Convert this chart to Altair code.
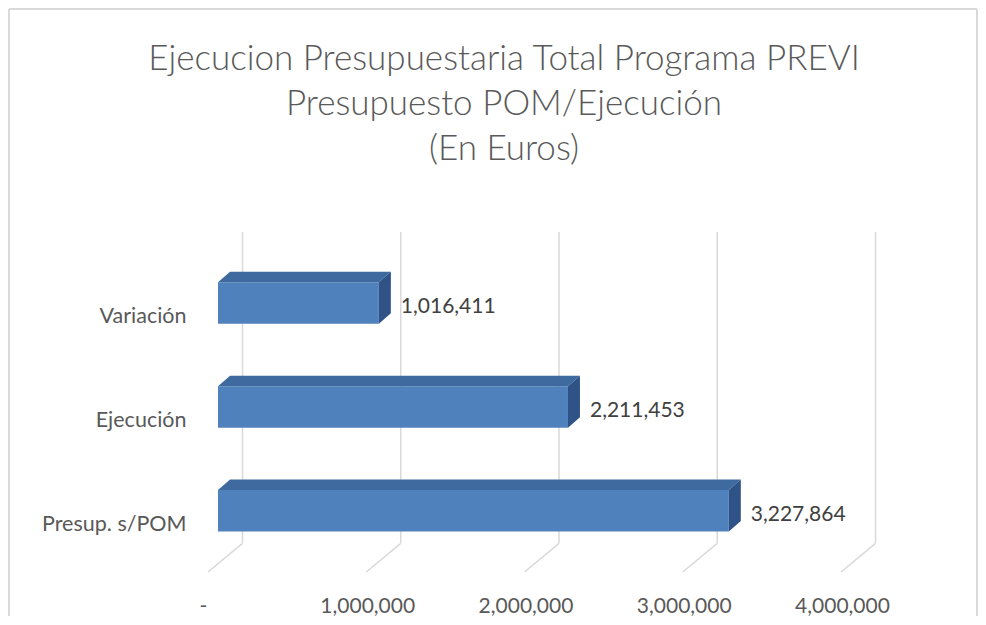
import altair as alt
import pandas as pd

# ---------------- data ----------------
categories = ["Presup. s/POM", "Ejecución", "Variación"]
cat_index = [0, 1, 2]
values = [3227864, 2211453, 1016411]
tick_values = [0, 1000000, 2000000, 3000000, 4000000]
title_lines = [
    "Ejecucion Presupuestaria Total Programa PREVI",
    "Presupuesto POM/Ejecución",
    "(En Euros)",
]

# ---------------- layout / style ----------------
W, H = 633, 340
X_MAX = 4000000
Y_MIN, Y_MAX = -0.589, 2.683
PX_X = W / X_MAX
PX_Y = H / (Y_MAX - Y_MIN)
BAR_HALF = 20.75 / PX_Y
DEPTH_X = 12 / PX_X
DEPTH_Y = 10.5 / PX_Y
WALL_BOTTOM = Y_MAX - 311.3 / PX_Y

FONT = "Lato"
TXT = "#595959"
GRID = "#d9d9d9"
FRONT = "#4F81BD"
TOP = "#3E6A9F"
SIDE = "#2F5386"
FS = 21

xs = alt.Scale(domain=[0, X_MAX], nice=False, zero=False)
ys = alt.Scale(domain=[Y_MIN, Y_MAX], nice=False, zero=False)

bars = pd.DataFrame({"cat": categories, "idx": cat_index, "value": values})
bars["zero"] = 0
bars["y0"] = bars["idx"] - BAR_HALF
bars["y1"] = bars["idx"] + BAR_HALF

top_rows = []
side_rows = []
for c, i, v in zip(categories, cat_index, values):
    top_rows.append({"cat": c, "y": i + BAR_HALF, "xa": 0, "xb": v})
    top_rows.append({"cat": c, "y": i + BAR_HALF + DEPTH_Y, "xa": DEPTH_X, "xb": v + DEPTH_X})
    side_rows.append({"cat": c, "x": v, "ya": i - BAR_HALF, "yb": i + BAR_HALF})
    side_rows.append({"cat": c, "x": v + DEPTH_X, "ya": i - BAR_HALF + DEPTH_Y, "yb": i + BAR_HALF + DEPTH_Y})
top_df = pd.DataFrame(top_rows)
side_df = pd.DataFrame(side_rows)

grid_df = pd.DataFrame({"t": tick_values})
grid_df["yt"] = Y_MAX
grid_df["yb"] = WALL_BOTTOM
grid_df["yf"] = Y_MIN

label_expr = "[" + ",".join("'%s'" % c for c in categories) + "][datum.value]"

x_axis = alt.Axis(
    values=tick_values, grid=False, domain=False, ticks=False, labelFlush=False,
    labelOverlap=False,
    labelExpr="datum.value == 0 ? '-' : format(datum.value, ',')",
    labelFont=FONT, labelFontSize=FS, labelColor=TXT, labelPadding=23,
    labelOffset={"condition": {"test": "datum.value == 0", "value": -15}, "value": -9},
    title=None,
)
y_axis = alt.Axis(
    values=cat_index, grid=False, domain=False, ticks=False,
    labelExpr=label_expr, labelFont=FONT, labelFontSize=21.5, labelColor=TXT,
    labelPadding=32, labelOffset=14, title=None,
)

wall = alt.Chart(grid_df).mark_rule(color=GRID, strokeWidth=1.5, xOffset=24.5).encode(
    x=alt.X("t:Q", scale=xs, axis=x_axis),
    y=alt.Y("yt:Q", scale=ys, axis=y_axis),
    y2="yb:Q",
)
floor = alt.Chart(grid_df).mark_rule(color=GRID, strokeWidth=1.5, xOffset=24.5, x2Offset=-10).encode(
    x=alt.X("t:Q", scale=xs),
    x2="t:Q",
    y=alt.Y("yb:Q", scale=ys),
    y2="yf:Q",
)
front = alt.Chart(bars).mark_rect(color=FRONT).encode(
    x=alt.X("zero:Q", scale=xs),
    x2="value:Q",
    y=alt.Y("y0:Q", scale=ys),
    y2="y1:Q",
)
top = alt.Chart(top_df).mark_area(color=TOP, orient="horizontal").encode(
    y=alt.Y("y:Q", scale=ys, stack=None),
    x=alt.X("xa:Q", scale=xs, stack=None),
    x2="xb:Q",
    detail="cat:N",
)
side = alt.Chart(side_df).mark_area(color=SIDE, orient="vertical").encode(
    x=alt.X("x:Q", scale=xs, stack=None),
    y=alt.Y("ya:Q", scale=ys, stack=None),
    y2="yb:Q",
    detail="cat:N",
)
labels = alt.Chart(bars).mark_text(
    align="left", baseline="middle", dx=22, dy=4, font=FONT, fontSize=FS, color="#404040"
).encode(
    x=alt.X("value:Q", scale=xs),
    y=alt.Y("idx:Q", scale=ys),
    text=alt.Text("value:Q", format=","),
)

one = pd.DataFrame({"k": [0]})
title_mark = alt.Chart(one).mark_text(
    text=title_lines, lineHeight=45, align="center", baseline="alphabetic",
    font=FONT, fontSize=35, fontWeight=300, color=TXT,
).encode(x=alt.value(286), y=alt.value(-162))

frame_left = alt.Chart(one).mark_rule(color=GRID, strokeWidth=2).encode(
    x=alt.value(-209), y=alt.value(-223), y2=alt.value(H + 44)
)
frame_top = alt.Chart(one).mark_rule(color=GRID, strokeWidth=2).encode(
    x=alt.value(-209), x2=alt.value(759), y=alt.value(-223)
)
frame_right = alt.Chart(one).mark_rule(color=GRID, strokeWidth=2).encode(
    x=alt.value(759), y=alt.value(-223), y2=alt.value(H + 44)
)

chart = alt.layer(
    frame_left, frame_top, frame_right, title_mark, wall, floor, front, top, side, labels
).properties(
    width=W,
    height=H,
    autosize=alt.AutoSizeParams(type="none"),
    padding={"left": 210, "top": 224, "right": 127, "bottom": 44},
).configure(background="white", view=alt.ViewConfig(stroke=None))

chart.save("out.html", embed_options={"renderer": "svg", "actions": False})
